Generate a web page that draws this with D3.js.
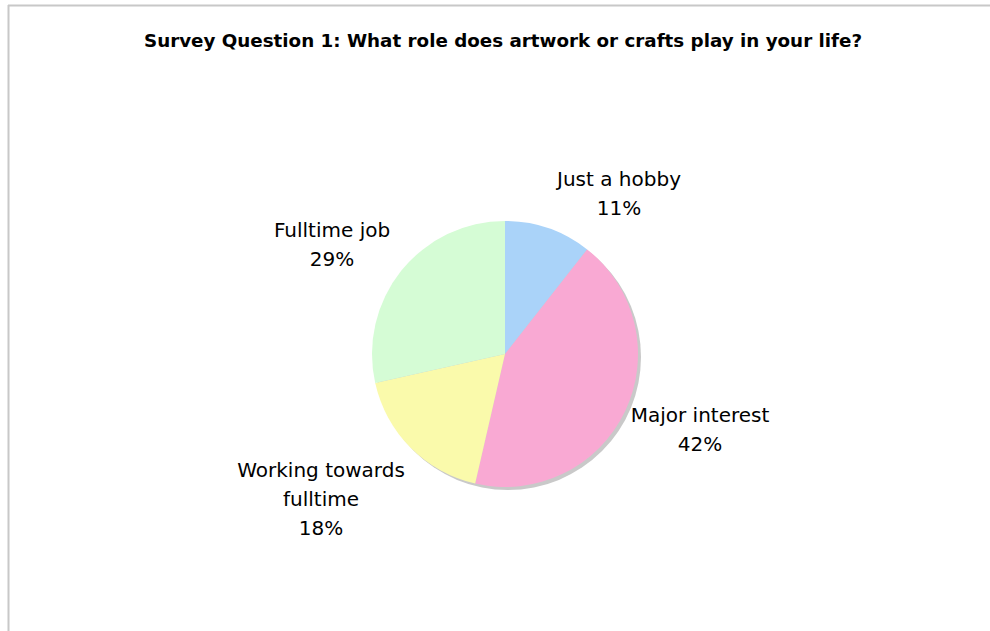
<!DOCTYPE html>
<html>
<head>
<meta charset="utf-8">
<script src="https://cdn.jsdelivr.net/npm/d3@7"></script>
<style>
  html, body { margin: 0; padding: 0; background: #ffffff; }
  svg { display: block; }
</style>
</head>
<body>
<svg id="chart" width="990" height="631"></svg>
<script>
const title = "Survey Question 1: What role does artwork or crafts play in your life?";
const categories = ["Just a hobby", "Major interest", "Working towards fulltime", "Fulltime job"];
const labelLines = [["Just a hobby"], ["Major interest"], ["Working towards", "fulltime"], ["Fulltime job"]];
const values = [10.6, 43.0, 17.9, 28.5];           // slice sizes as drawn
const percentLabels = ["11%", "42%", "18%", "29%"]; // labels as printed
const colors = ["#aad3f9", "#f9a9d3", "#fafaab", "#d5fcd5"];

// layout (label anchor offsets from pie centre, first baseline) — not data
const labelLayout = [[114, -168], [195, 68], [-184, 123], [-173, -117]];

const W = 990, H = 631;
const svg = d3.select("#chart");
const font = "'DejaVu Sans', sans-serif";

// frame
svg.append("line").attr("x1", 8).attr("y1", 5.5).attr("x2", W).attr("y2", 5.5)
  .attr("stroke", "#c8c8c8").attr("stroke-width", 2);
svg.append("line").attr("x1", 8.5).attr("y1", 5).attr("x2", 8.5).attr("y2", H)
  .attr("stroke", "#c8c8c8").attr("stroke-width", 2);

svg.append("text").attr("x", 503).attr("y", 47).attr("text-anchor", "middle")
  .attr("font-family", font).attr("font-weight", "bold").attr("font-size", 18.3)
  .attr("fill", "#000").text(title);

const cx = 505, cy = 354, R = 133;
const pie = d3.pie().sort(null).value(d => d)(values);
const arc = d3.arc().innerRadius(0).outerRadius(R);

const g = svg.append("g").attr("transform", `translate(${cx},${cy})`);
// shadow
g.append("circle").attr("cx", 3).attr("cy", 3).attr("r", R).attr("fill", "#c9c9c9");
g.selectAll("path.slice").data(pie).join("path").attr("class", "slice")
  .attr("d", arc).attr("fill", (d, i) => colors[i]);

const lineH = 29;
pie.forEach((d, i) => {
  const [lx, ly] = labelLayout[i];
  const lines = labelLines[i].concat([percentLabels[i]]);
  const t = g.append("text").attr("text-anchor", "middle")
    .attr("font-family", font).attr("font-size", 20).attr("fill", "#000");
  lines.forEach((s, k) => {
    t.append("tspan").attr("x", lx).attr("y", ly + k * lineH).text(s);
  });
});
</script>
</body>
</html>
